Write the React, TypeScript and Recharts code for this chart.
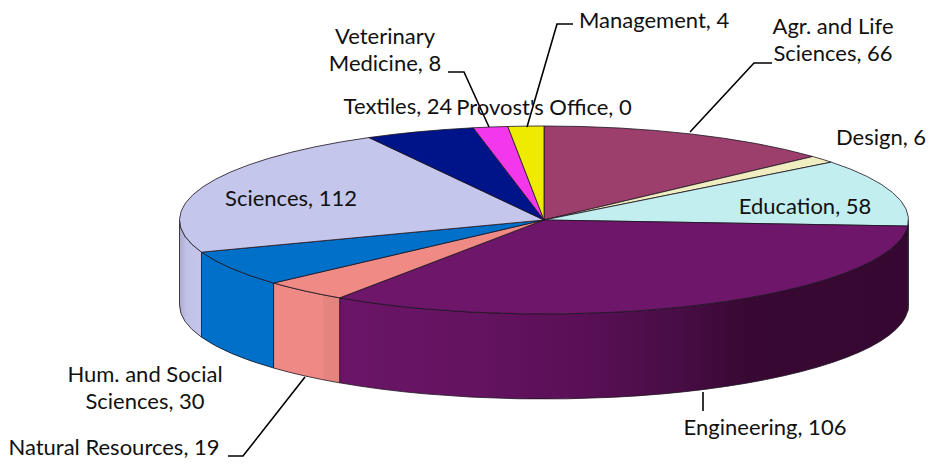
import { PieChart, Pie } from 'recharts'

const WIDTH = 932
const HEIGHT = 466

// ---- Data ----

const departments = [
  'Agr. and Life Sciences',
  'Design',
  'Education',
  'Engineering',
  'Natural Resources',
  'Hum. and Social Sciences',
  'Sciences',
  'Textiles',
  'Veterinary Medicine',
  'Management',
  "Provost's Office",
]

// the numbers printed in the labels
const counts = [66, 6, 58, 106, 19, 30, 112, 24, 8, 4, 0]

// the slices as drawn: the 3D perspective of the original bends them away from
// the counts, so the sweep of each one (degrees) is read off the picture
const drawnSweep = [47.5, 4.5, 41.7, 120.4, 13.8, 22.1, 81.3, 17.5, 5.5, 5.7, 0]

const topColors = [
  '#9c3f6c',
  '#f0edc0',
  '#c2eef0',
  '#6e1669',
  '#ef8a85',
  '#0070c8',
  '#c5c6ec',
  '#001489',
  '#f238ea',
  '#efeb00',
  '#ffffff',
]

const wallColors = [
  '#9c3f6c',
  '#f0edc0',
  '#9fc4c6',
  'url(#engineeringWall)',
  'url(#naturalWall)',
  '#0070c8',
  'url(#sciencesWall)',
  '#001489',
  '#f238ea',
  '#efeb00',
  '#ffffff',
]

const pieData = departments.map((name, i) => ({
  name,
  count: counts[i],
  sweep: drawnSweep[i],
}))

// ---- Pie geometry ----

const CX = 544
const CY = 220
const RX = 364.5
const TILT = 94 / 364.5
const DEPTH = 85
const EDGE = '#1c1420'

const RAD = Math.PI / 180

function rim(cx: number, cy: number, r: number, deg: number) {
  return {
    x: cx + r * Math.cos(deg * RAD),
    y: cy - r * TILT * Math.sin(deg * RAD),
  }
}

function TopSlice(props: any) {
  const { cx, cy, outerRadius: r, startAngle, endAngle, index } = props
  if (startAngle === endAngle) return null
  const a = rim(cx, cy, r, startAngle)
  const b = rim(cx, cy, r, endAngle)
  const large = Math.abs(startAngle - endAngle) > 180 ? 1 : 0
  return (
    <path
      d={`M${cx},${cy} L${a.x},${a.y} A${r},${r * TILT} 0 ${large} 1 ${b.x},${b.y} Z`}
      fill={topColors[index]}
      stroke={EDGE}
      strokeWidth={0.8}
      strokeLinejoin="round"
    />
  )
}

// only the part of a slice on the near half of the rim shows a wall
function WallSlice(props: any) {
  const { cx, cy, outerRadius: r, startAngle, endAngle, index } = props
  const from = Math.min(startAngle, 0)
  const to = Math.max(endAngle, -180)
  if (from <= to) return null
  const a = rim(cx, cy, r, from)
  const b = rim(cx, cy, r, to)
  const large = from - to > 180 ? 1 : 0
  const ry = r * TILT
  return (
    <path
      d={`M${a.x},${a.y} A${r},${ry} 0 ${large} 1 ${b.x},${b.y} L${b.x},${b.y + DEPTH} A${r},${ry} 0 ${large} 0 ${a.x},${a.y + DEPTH} Z`}
      fill={wallColors[index]}
      stroke={EDGE}
      strokeWidth={0.8}
      strokeLinejoin="round"
    />
  )
}

// ---- Labels ----

interface LabelSpot {
  lines: string[]
  x: number
  y: number
  anchor?: 'start' | 'middle' | 'end'
  leader?: string
}

const labelSpots: Record<string, LabelSpot> = {
  'Agr. and Life Sciences': {
    lines: ['Agr. and Life', 'Sciences, 66'],
    x: 833,
    y: 34,
    leader: '690,132 754,63 772,63',
  },
  Design: { lines: ['Design, 6'], x: 881, y: 145 },
  Education: { lines: ['Education, 58'], x: 805, y: 214 },
  Engineering: {
    lines: ['Engineering, 106'],
    x: 765,
    y: 435,
    leader: '703,392 703,411',
  },
  'Natural Resources': {
    lines: ['Natural Resources, 19'],
    x: 114,
    y: 455,
    leader: '305,377 243,456 228,456',
  },
  'Hum. and Social Sciences': {
    lines: ['Hum. and Social', 'Sciences, 30'],
    x: 145,
    y: 382,
  },
  Sciences: { lines: ['Sciences, 112'], x: 291, y: 206 },
  Textiles: { lines: ['Textiles, 24'], x: 398, y: 114 },
  'Veterinary Medicine': {
    lines: ['Veterinary', 'Medicine, 8'],
    x: 385,
    y: 44,
    leader: '489,127 464,72 448,72',
  },
  Management: {
    lines: ['Management, 4'],
    x: 579,
    y: 28,
    anchor: 'start',
    leader: '527,127 557,24 573,24',
  },
  "Provost's Office": { lines: ["Provost's Office, 0"], x: 544, y: 115 },
}

function SliceLabel(props: any) {
  const spot = labelSpots[props.name]
  if (!spot) return null
  return (
    <g>
      {spot.leader && (
        <polyline
          points={spot.leader}
          fill="none"
          stroke="#000000"
          strokeWidth={1.6}
        />
      )}
      <text
        x={spot.x}
        y={spot.y}
        textAnchor={spot.anchor ?? 'middle'}
        fontFamily="Lato, 'Open Sans', sans-serif"
        fontSize={22}
        fill="#111111"
      >
        {spot.lines.map((line, i) => (
          <tspan key={line} x={spot.x} dy={i === 0 ? 0 : 27}>
            {line}
          </tspan>
        ))}
      </text>
    </g>
  )
}

// ---- Main export ----

export default function App() {
  return (
    <div style={{ position: 'absolute', left: 0, top: 0, width: WIDTH, height: HEIGHT }}>
      <PieChart width={WIDTH} height={HEIGHT} margin={{ top: 0, right: 0, bottom: 0, left: 0 }}>
        <defs>
          <linearGradient id="engineeringWall" x1="0" y1="0" x2="1" y2="0">
            <stop offset="0" stopColor="#6b1568" />
            <stop offset="0.25" stopColor="#63135f" />
            <stop offset="0.45" stopColor="#580f54" />
            <stop offset="0.6" stopColor="#470d45" />
            <stop offset="0.72" stopColor="#380832" />
            <stop offset="1" stopColor="#360831" />
          </linearGradient>
          <linearGradient id="naturalWall" x1="0" y1="0" x2="1" y2="0">
            <stop offset="0" stopColor="#ee8986" />
            <stop offset="0.75" stopColor="#ee8986" />
            <stop offset="0.76" stopColor="#e5837f" />
            <stop offset="1" stopColor="#e5837f" />
          </linearGradient>
          <linearGradient id="sciencesWall" x1="0" y1="0" x2="1" y2="0">
            <stop offset="0" stopColor="#a9aaca" />
            <stop offset="0.3" stopColor="#c0c1e6" />
            <stop offset="1" stopColor="#c5c6ec" />
          </linearGradient>
        </defs>
        <Pie
          data={pieData}
          dataKey="sweep"
          nameKey="name"
          cx={CX}
          cy={CY}
          outerRadius={RX}
          startAngle={90}
          endAngle={-270}
          stroke="none"
          shape={WallSlice}
          isAnimationActive={false}
        />
        <Pie
          data={pieData}
          dataKey="sweep"
          nameKey="name"
          cx={CX}
          cy={CY}
          outerRadius={RX}
          startAngle={90}
          endAngle={-270}
          stroke="none"
          shape={TopSlice}
          label={SliceLabel}
          labelLine={false}
          isAnimationActive={false}
        />
      </PieChart>
    </div>
  )
}
